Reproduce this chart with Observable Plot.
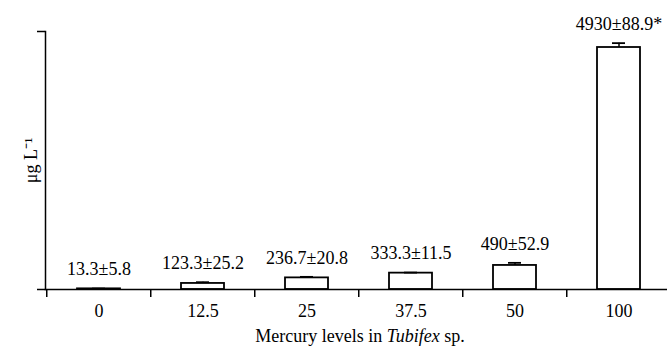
<!DOCTYPE html>
<html>
<head>
<meta charset="utf-8">
<script src="https://cdn.jsdelivr.net/npm/d3@7"></script>
<script src="https://cdn.jsdelivr.net/npm/@observablehq/plot@0.6"></script>
<style>
  html, body { margin: 0; padding: 0; background: white; }
  svg text { font-family: "Liberation Serif", "Times New Roman", serif; }
</style>
</head>
<body>
<div id="chart"></div>
<script>
const levels = ["0", "12.5", "25", "37.5", "50", "100"];
const means = [13.3, 123.3, 236.7, 333.3, 490, 4930];
const sds = [5.8, 25.2, 20.8, 11.5, 52.9, 88.9];
const labels = ["13.3±5.8", "123.3±25.2", "236.7±20.8", "333.3±11.5", "490±52.9", "4930±88.9*"];
const yLabel = "μg L⁻¹";
const xLabelParts = [["Mercury levels in ", "normal"], ["Tubifex", "italic"], [" sp.", "normal"]];

const data = levels.map((l, i) => ({level: l, mean: means[i], sd: sds[i], label: labels[i]}));

const yMax = 5256;
const step = (672 - 45) / levels.length;
const FONT = "Liberation Serif";

const chart = Plot.plot({
  width: 667,
  height: 352,
  marginLeft: 45,
  marginRight: 0,
  marginTop: 31,
  marginBottom: 63,
  style: {fontFamily: FONT, fontSize: "18px", color: "black", background: "white"},
  x: {domain: levels, range: [45, 672], paddingInner: 0.59, paddingOuter: 0.295, label: null},
  y: {domain: [0, yMax], label: null},
  marks: [
    Plot.barY(data, {x: "level", y: "mean", fill: "white", stroke: "black", strokeWidth: 1.8}),
    Plot.ruleX(data, {x: "level", y1: "mean", y2: d => d.mean + d.sd, stroke: "black", strokeWidth: 1.5}),
    Plot.tickY(data, {x: "level", y: d => d.mean + d.sd, insetLeft: 15, insetRight: 15, stroke: "black", strokeWidth: 1.8}),
    Plot.text(data, {x: "level", y: d => d.mean + d.sd, text: "label", dy: -19, lineAnchor: "middle", fill: "black"}),
    Plot.frame({anchor: "left", stroke: "black", strokeWidth: 1.5}),
    Plot.frame({anchor: "bottom", stroke: "black", strokeWidth: 1.5}),
    Plot.axisY({ticks: [0, yMax], tickSize: 8, tickFormat: () => "", stroke: "black", strokeWidth: 1.5,
      label: yLabel, labelAnchor: "center", labelArrow: "none", labelOffset: 21}),
    Plot.axisX({tickSize: 8, tickFormat: () => "", dx: -step / 2, stroke: "black", strokeWidth: 1.5, label: null}),
    Plot.axisX({tickSize: 0, tickPadding: 15, label: null, fill: "black"})
  ]
});

document.getElementById("chart").appendChild(chart);

const svg = d3.select(chart);
svg.selectAll("text").style("font-family", FONT);
const t = svg.append("text")
  .attr("x", 360).attr("y", 338)
  .attr("text-anchor", "middle")
  .attr("dominant-baseline", "middle")
  .attr("fill", "black")
  .style("font-family", FONT)
  .style("font-size", "18px");
xLabelParts.forEach(([s, st]) => t.append("tspan").attr("font-style", st).text(s));
</script>
</body>
</html>
